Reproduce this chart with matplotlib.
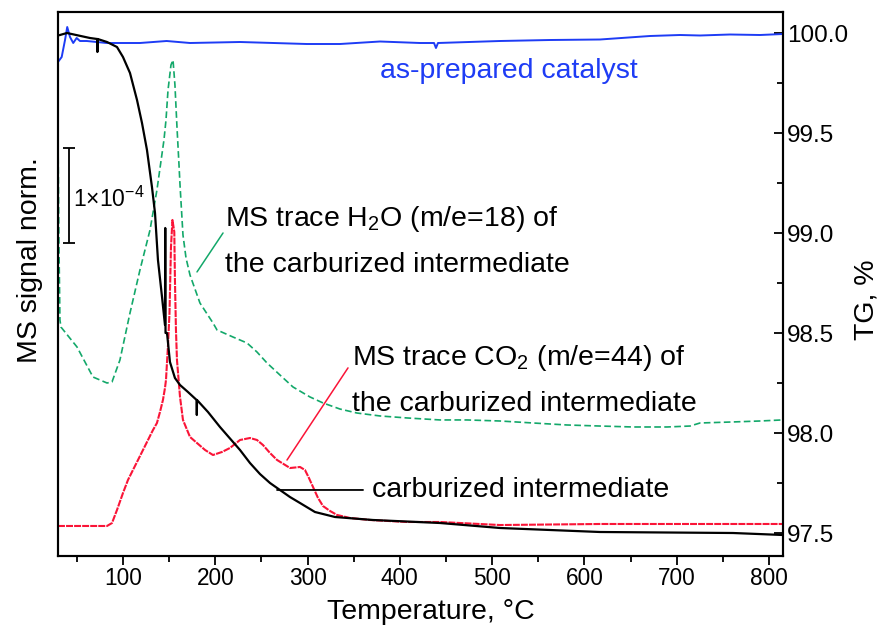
import matplotlib
matplotlib.use("Agg")
import matplotlib.pyplot as plt

plt.rcParams["font.family"] = ["Liberation Sans", "DejaVu Sans"]
plt.rcParams["mathtext.fontset"] = "custom"
plt.rcParams["mathtext.rm"] = "Liberation Sans"
plt.rcParams["mathtext.it"] = "Liberation Sans:italic"
plt.rcParams["mathtext.bf"] = "Liberation Sans:bold"
plt.rcParams["lines.scale_dashes"] = False

# ---- TG of the carburized intermediate (right axis, %) ----
tg_carb_T = [31.7, 39.3, 64.2, 72.0, 72.3, 72.6, 82.7, 93.5, 100.0, 107.6, 115.2,
             120.6, 126.0, 131.4, 134.7, 137.9, 142.3, 145.5, 145.8, 146.1, 147.7,
             150.9, 156.3, 161.8, 170.4, 179.8, 180.0, 180.2, 192.1, 205.1, 226.8,
             237.6, 248.4, 259.3, 270.1, 280.9, 291.8, 308.0, 329.7, 370.9, 443.5,
             508.5, 616.8, 760.9, 815.1]
tg_carb = [99.99, 100.0, 99.975, 99.97, 99.905, 99.97, 99.955, 99.93, 99.88, 99.80,
           99.665, 99.55, 99.415, 99.23, 99.10, 98.865, 98.68, 98.54, 99.025, 98.50,
           98.50, 98.355, 98.275, 98.24, 98.205, 98.165, 98.09, 98.165, 98.105, 98.03,
           97.915, 97.85, 97.795, 97.75, 97.715, 97.68, 97.65, 97.605, 97.58, 97.565,
           97.55, 97.525, 97.505, 97.50, 97.49]

# ---- TG of the as-prepared catalyst (right axis, %) ----
tg_prep_T = [29.9, 33.6, 37.2, 39.6, 42.6, 46.1, 49.8, 53.4, 60.7, 82.3, 118.4,
             147.3, 172.6, 226.8, 299.1, 335.1, 378.5, 421.8, 437.0, 439.1, 441.3,
             508.5, 562.7, 616.8, 671.0, 703.5, 725.2, 757.7, 790.2, 815.1]
tg_prep = [99.857, 99.88, 99.965, 100.03, 99.98, 99.95, 99.975, 99.96, 99.96, 99.95,
           99.95, 99.96, 99.95, 99.955, 99.945, 99.945, 99.9575, 99.95, 99.95, 99.925,
           99.95, 99.96, 99.965, 99.9675, 99.985, 99.99, 99.9875, 99.9925, 99.99, 99.995]

# ---- MS trace H2O, m/e = 18 (left axis, 1e-4 units) ----
h2o_T = [29.6, 30.7, 31.7, 32.8, 50.2, 67.5, 82.7, 88.1, 96.7, 107.6, 118.4, 129.3,
         136.8, 144.4, 146.6, 148.8, 152.0, 154.2, 156.3, 158.5, 160.7, 161.8, 165.0,
         168.3, 172.6, 183.4, 197.5, 201.9, 219.2, 234.4, 245.2, 256.0, 270.1, 284.2,
         302.6, 316.7, 335.1, 353.5, 378.5, 407.7, 443.5, 472.7, 508.5, 544.3, 581.1,
         616.8, 652.6, 689.4, 714.4, 725.2, 760.9, 790.2, 814.0]
h2o = [4.41, 3.22, 2.484, 2.41, 2.20, 1.884, 1.821, 1.832, 2.063, 2.558, 3.011, 3.432,
       3.853, 4.379, 4.589, 4.905, 5.168, 5.221, 4.958, 4.516, 4.116, 3.905, 3.379,
       3.137, 2.958, 2.663, 2.453, 2.379, 2.305, 2.242, 2.147, 2.032, 1.905, 1.779,
       1.674, 1.611, 1.547, 1.505, 1.474, 1.453, 1.432, 1.432, 1.421, 1.40, 1.379,
       1.368, 1.358, 1.358, 1.368, 1.40, 1.411, 1.421, 1.432]

# ---- MS trace CO2, m/e = 44 (left axis, 1e-4 units) ----
co2_T = [29.6, 53.4, 82.7, 88.1, 93.5, 100.0, 105.4, 110.8, 116.3, 121.7, 127.1,
         132.5, 136.8, 140.1, 143.3, 145.5, 146.6, 148.8, 150.4, 152.0, 153.6, 155.6,
         156.3, 157.4, 158.5, 161.8, 165.0, 172.6, 180.2, 188.9, 197.5, 207.3, 215.9,
         226.8, 237.6, 245.2, 251.7, 259.3, 266.9, 281.0, 291.8, 297.2, 301.5, 305.9,
         311.3, 316.7, 324.3, 331.9, 346.0, 367.6, 407.7, 443.5, 508.5, 616.8, 814.0]
co2 = [0.316, 0.316, 0.316, 0.347, 0.484, 0.663, 0.80, 0.905, 1.011, 1.116, 1.221,
       1.326, 1.40, 1.516, 1.642, 1.768, 1.853, 2.221, 2.558, 3.253, 3.537, 3.411,
       2.905, 2.379, 2.063, 1.674, 1.432, 1.253, 1.189, 1.116, 1.063, 1.095, 1.137,
       1.221, 1.242, 1.221, 1.168, 1.084, 1.011, 0.926, 0.937, 0.905, 0.821, 0.726,
       0.611, 0.526, 0.474, 0.432, 0.40, 0.379, 0.358, 0.358, 0.326, 0.337, 0.337]

x_ticks = [100, 200, 300, 400, 500, 600, 700, 800]
tg_ticks = [97.5, 98.0, 98.5, 99.0, 99.5, 100.0]

BLUE = "#1e3cf5"
GREEN = "#13a86a"
RED = "#fa1437"

fig = plt.figure(figsize=(8.81, 6.28), dpi=100)
ax = fig.add_axes([58 / 881, 72 / 628, 725 / 881, 544 / 628])
ax2 = ax.twinx()

# MS traces on the left axis
ax.plot(h2o_T, h2o, color=GREEN, lw=1.2, dashes=(4.8, 2.4))
ax.plot(co2_T, co2, color=RED, lw=1.5, dashes=(5.0, 0.8))
ax.set_xlim(29.6, 815.1)
ax.set_ylim(0, 5.726)
ax.set_yticks([])
ax.set_xticks(x_ticks)
ax.set_xticks(range(50, 815, 100), minor=True)
ax.tick_params(axis="x", which="major", direction="out", length=6.5, width=1.3,
               labelsize=16.3, pad=1.5, top=False)
ax.tick_params(axis="x", which="minor", direction="out", length=4, width=1.3, top=False)
ax.set_xlabel("Temperature, °C", fontsize=20.5)
ax.xaxis.set_label_coords(0.5145, -0.079)
ax.set_ylabel("MS signal norm.", fontsize=20.5)
ax.yaxis.set_label_coords(-0.021, 0.544)

# TG curves on the right axis
ax2.plot(tg_prep_T, tg_prep, color=BLUE, lw=1.4)
ax2.plot(tg_carb_T, tg_carb, color="black", lw=1.6)
ax2.set_ylim(97.385, 100.105)
ax2.set_yticks(tg_ticks)
ax2.set_yticks([97.75, 98.25, 98.75, 99.25, 99.75], minor=True)
ax2.set_yticklabels([f"{v:.1f}" for v in tg_ticks])
ax2.tick_params(axis="y", which="major", direction="in", length=6.5, width=1.3,
                labelsize=17.5, pad=3)
ax2.tick_params(axis="y", which="minor", direction="in", length=4, width=1.3)
ax2.set_ylabel("TG, %", fontsize=20.5)
ax2.yaxis.set_label_coords(1.0966, 0.4706)

for a in (ax, ax2):
    for s in a.spines.values():
        s.set_linewidth(1.5)

# scale bar for the MS signal
ax.errorbar([41.5], [3.795], yerr=[0.5], color="black", lw=1.3, capsize=4.2,
            capthick=1.3)
ax.text(45.8, 3.674, r"1×10$^{-4}$", fontsize=16.5, va="baseline", ha="left")

# labels and leader lines
ax.text(378.5, 5.032, "as-prepared catalyst", color=BLUE, fontsize=20.5,
        va="baseline", ha="left")

ax.text(210.5, 3.474, r"MS trace H$_2$O (m/e=18) of", fontsize=20.5,
        va="baseline", ha="left")
ax.text(210.5, 2.989, "the carburized intermediate", fontsize=20.5,
        va="baseline", ha="left")
ax.annotate("", xy=(180.2, 2.99), xytext=(208.4, 3.40),
            arrowprops=dict(arrowstyle="-", color=GREEN, lw=1.1,
                            shrinkA=0, shrinkB=0))

ax.text(348.1, 2.011, r"MS trace CO$_2$ (m/e=44) of", fontsize=20.5,
        va="baseline", ha="left")
ax.text(348.1, 1.526, "the carburized intermediate", fontsize=20.5,
        va="baseline", ha="left")
ax.annotate("", xy=(277.7, 1.01), xytext=(343.8, 1.98),
            arrowprops=dict(arrowstyle="-", color=RED, lw=1.1,
                            shrinkA=0, shrinkB=0))

ax.text(369.8, 0.621, "carburized intermediate", fontsize=20.5,
        va="baseline", ha="left")
ax.annotate("", xy=(266.9, 0.695), xytext=(360.1, 0.695),
            arrowprops=dict(arrowstyle="-", color="black", lw=1.3,
                            shrinkA=0, shrinkB=0))

fig.savefig("out.png", dpi=100)
